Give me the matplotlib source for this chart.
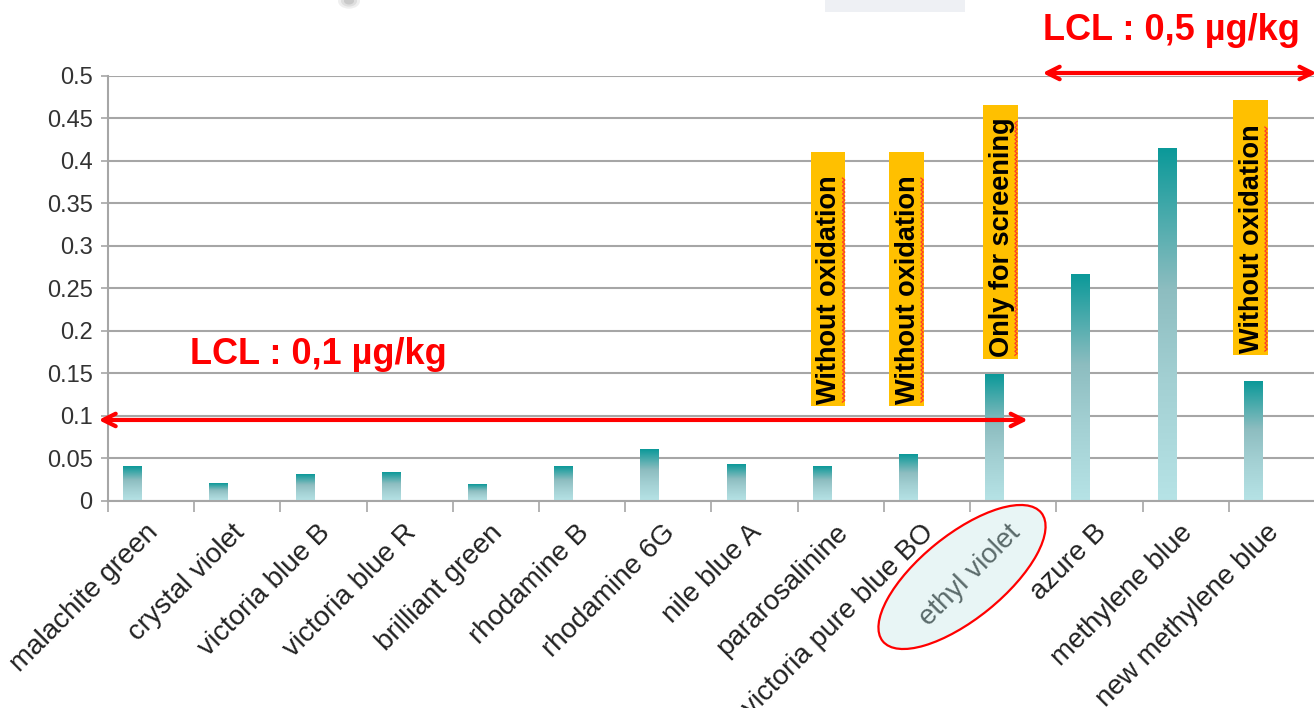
import numpy as np
import matplotlib
matplotlib.use("Agg")
import matplotlib.pyplot as plt
import matplotlib.transforms as mtransforms
from matplotlib.colors import LinearSegmentedColormap
from matplotlib.patches import Rectangle, Ellipse

# data
dyes = ["malachite green", "crystal violet", "victoria blue B", "victoria blue R",
        "brilliant green", "rhodamine B", "rhodamine 6G", "nile blue A",
        "pararosalinine", "victoria pure blue BO", "ethyl violet", "azure B",
        "methylene blue", "new methylene blue"]
values = [0.041, 0.021, 0.031, 0.033, 0.019, 0.041, 0.061, 0.043,
          0.041, 0.055, 0.149, 0.266, 0.415, 0.140]

yticks = [0, 0.05, 0.1, 0.15, 0.2, 0.25, 0.3, 0.35, 0.4, 0.45, 0.5]
ytick_labels = ["0", "0.05", "0.1", "0.15", "0.2", "0.25", "0.3", "0.35",
                "0.4", "0.45", "0.5"]

# yellow notes above some bars
note_text = ["Without oxidation", "Without oxidation", "Only for screening",
             "Without oxidation"]
note_dye = [8, 9, 10, 13]
note_bottom = [0.112, 0.112, 0.167, 0.172]
note_top = [0.41, 0.41, 0.466, 0.472]
note_left = [-0.35, -0.44, -0.35, -0.45]

# LCL ranges (value, first x, last x)
lcl_low = 0.0953
lcl_low_span = (-0.61, 10.17)
lcl_high = 0.5035
lcl_high_span = (10.34, 13.52)

plt.rcParams["font.family"] = ["Liberation Sans", "DejaVu Sans"]

fig = plt.figure(figsize=(13.14, 7.08), dpi=100)
ax = fig.add_axes([0.0822, 0.2924, 0.9185, 0.6003])

grid_col = "#a6a6a6"
ax.set_axisbelow(True)
ax.yaxis.grid(True, color=grid_col, lw=1.5)
for side in ["top", "right"]:
    ax.spines[side].set_visible(False)
for side in ["left", "bottom"]:
    ax.spines[side].set_color(grid_col)
    ax.spines[side].set_linewidth(1.5)

# gradient bars
cmap = LinearSegmentedColormap.from_list(
    "teal", [(0, "#b6e3e6"), (0.35, "#a2cfd2"), (0.6, "#8dbdc0"), (1, "#0b9999")])
grad = np.linspace(0, 1, 256).reshape(-1, 1)
bar_w = 0.22
for i, v in enumerate(values):
    x0 = i - 0.214 - bar_w / 2
    ax.imshow(grad, extent=[x0, x0 + bar_w, 0, v], cmap=cmap, aspect="auto",
              origin="lower", zorder=2, interpolation="bilinear")

n = len(dyes)
ax.set_xlim(-0.5, n - 0.5)
ax.set_ylim(0, 0.5)

ax.set_yticks(yticks)
ax.set_yticklabels(ytick_labels, fontsize=17, color="#333333")
ax.tick_params(axis="y", length=5, color=grid_col, width=1.2, pad=6)

ax.set_xticks(np.arange(-0.5, n, 1.0))
ax.set_xticklabels([])
ax.tick_params(axis="x", which="major", length=8, color=grid_col, width=1.2)
ax.set_xticks(np.arange(n), minor=True)
ax.set_xticklabels(dyes, minor=True, fontsize=20, rotation=45, ha="right",
                   va="center", rotation_mode="anchor", color="#222222")
ax.tick_params(axis="x", which="minor", length=0, pad=20)
shift = mtransforms.ScaledTranslation(0.03, 0, fig.dpi_scale_trans)
for k, lab in enumerate(ax.get_xticklabels(minor=True)):
    lab.set_transform(lab.get_transform() + shift)
    if dyes[k] == "ethyl violet":
        lab.set_color("#5a6a6a")

# ellipse around ethyl violet (in inches from figure corner)
ell = Ellipse((9.62, 1.31), 2.04, 0.84, angle=39, transform=fig.dpi_scale_trans,
              facecolor="#e8f5f5", edgecolor="#ff0000", lw=1.6, zorder=0.4,
              clip_on=False)
ax.add_patch(ell)

# yellow notes
note_artists = []
for txt, d, b, t, l in zip(note_text, note_dye, note_bottom, note_top, note_left):
    ax.add_patch(Rectangle((d + l, b), 0.4, t - b, facecolor="#ffc000",
                           edgecolor="none", zorder=3))
    note_artists.append(ax.text(d + l + 0.215, b + 0.002, txt, rotation=90,
                                ha="center", va="bottom", fontsize=19.5,
                                fontweight="bold", color="black", zorder=4))

# LCL arrows and labels
ax.annotate("", xy=(lcl_low_span[0], lcl_low), xytext=(lcl_low_span[1], lcl_low),
            arrowprops=dict(arrowstyle="<->,head_length=0.9,head_width=0.45",
                            color="#ff0000", lw=3, shrinkA=0, shrinkB=0),
            annotation_clip=False, zorder=5)
ax.annotate("", xy=(lcl_high_span[0], lcl_high), xytext=(lcl_high_span[1], lcl_high),
            arrowprops=dict(arrowstyle="<->,head_length=0.9,head_width=0.45",
                            color="#ff0000", lw=3, shrinkA=0, shrinkB=0),
            annotation_clip=False, zorder=5)
ax.text(1.935, 0.172, "LCL : 0,1 µg/kg", color="#ff0000", fontsize=26,
        fontweight="bold", ha="center", va="center", zorder=5)
ax.text(11.84, 0.554, "LCL : 0,5 µg/kg", color="#ff0000", fontsize=26,
        fontweight="bold", ha="center", va="center", zorder=5, clip_on=False)

# spell-check squiggles next to the note texts
fig.canvas.draw()
renderer = fig.canvas.get_renderer()
for t in note_artists:
    bb = t.get_window_extent(renderer)
    ys = np.arange(bb.y0 + 2, bb.y1 - 2, 2.0)
    xs = bb.x1 + 1.5 + np.where(np.arange(len(ys)) % 2 == 0, -1.2, 1.2)
    ax.plot(xs, ys, color="#ff3a2a", lw=0.9, transform=mtransforms.IdentityTransform(),
            zorder=4.5, clip_on=False)

# leftover slide shapes at the top edge
fig.patches.append(Rectangle((825 / 1314, 1 - 12 / 708), 140 / 1314, 12 / 708,
                             transform=fig.transFigure, facecolor="#eef0f4",
                             edgecolor="none"))
for r, a in [(11, 0.15), (8, 0.2), (5, 0.3)]:
    fig.patches.append(Ellipse((349 / 1314, 1 - 1 / 708), 2 * r / 1314, 1.4 * r / 708,
                               transform=fig.transFigure, facecolor="#9a9a9a",
                               edgecolor="none", alpha=a))

fig.savefig("out.png", dpi=100)
